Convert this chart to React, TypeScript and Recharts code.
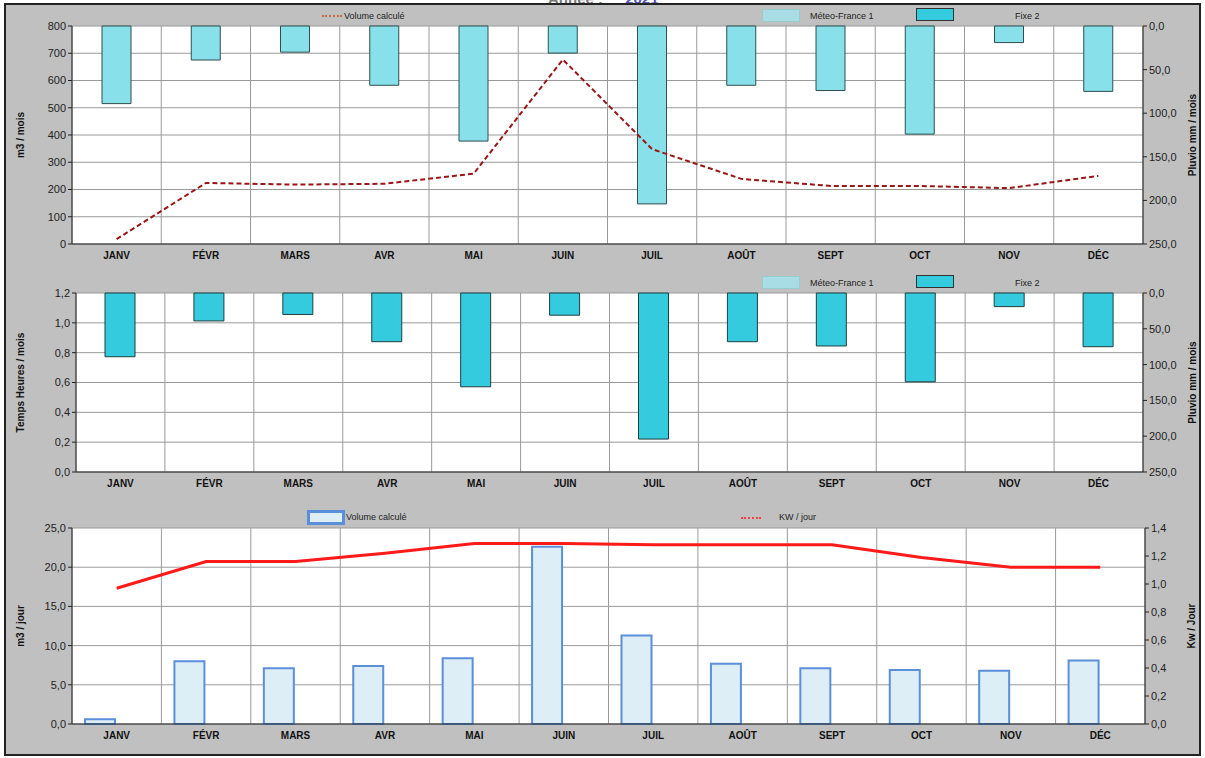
import React from 'react';
import { ComposedChart, Bar, Line, XAxis, YAxis, CartesianGrid } from 'recharts';

const months = ['JANV', 'FÉVR', 'MARS', 'AVR', 'MAI', 'JUIN', 'JUIL', 'AOÛT', 'SEPT', 'OCT', 'NOV', 'DÉC'];
const pluvioMeteo = [89, 39, 30, 68, 132, 31, 204, 68, 74, 124, 19, 75];
const pluvioFixe = [89, 39, 30, 68, 131, 31, 204, 68, 74, 124, 19, 75];
const tempsHeures = [0, 0, 0, 0, 0, 0, 0, 0, 0, 0, 0, 0];
const volumeMois = [18, 224, 218, 221, 258, 677, 348, 239, 213, 213, 205, 250];
const volumeJour = [0.6, 8.0, 7.1, 7.4, 8.4, 22.6, 11.3, 7.7, 7.1, 6.9, 6.8, 8.1];
const kwJour = [0.97, 1.16, 1.16, 1.22, 1.29, 1.29, 1.28, 1.28, 1.28, 1.19, 1.12, 1.12];

const ticksM3Mois = [0, 100, 200, 300, 400, 500, 600, 700, 800];
const ticksPluvio = [0, 50, 100, 150, 200, 250];
const ticksTemps = [0, 0.2, 0.4, 0.6, 0.8, 1.0, 1.2];
const ticksM3Jour = [0, 5, 10, 15, 20, 25];
const ticksKw = [0, 0.2, 0.4, 0.6, 0.8, 1.0, 1.2, 1.4];

const data1 = months.map((m, i) => ({ m, meteo: pluvioMeteo[i], vol: volumeMois[i] }));
const data2 = months.map((m, i) => ({ m, fixe: pluvioFixe[i], temps: tempsHeures[i] }));
const data3 = months.map((m, i) => ({ m, vj: volumeJour[i], kw: kwJour[i] }));

const FONT = '"Liberation Sans", Arial, sans-serif';
const comma1 = (v: number) => v.toFixed(1).replace('.', ',');
const tickStyle = { fontSize: 11, fill: '#222', fontFamily: FONT };
const xTickStyle = { fontSize: 10, fill: '#111', fontWeight: 700, fontFamily: FONT };
const axisLabelStyle = { fontSize: 10, fontWeight: 700, fill: '#111', fontFamily: FONT, textAnchor: 'middle' as const };

const vGen = ({ offset }: any) =>
  Array.from({ length: 13 }, (_, i) => offset.left + (i * offset.width) / 12);

const legendText: React.CSSProperties = {
  position: 'absolute', fontSize: 9, fontFamily: FONT, color: '#222', lineHeight: '10px',
};

function Swatch({ left, top, bg, border, w = 38, h = 13 }: any) {
  return (
    <div style={{ position: 'absolute', left, top, width: w, height: h, background: bg, border, boxSizing: 'border-box' }} />
  );
}

export default function App() {
  return (
    <div style={{ position: 'absolute', left: 0, top: 0, width: 1205, height: 758, background: '#fff', overflow: 'hidden', fontFamily: FONT }}>
      <div style={{ position: 'absolute', left: 548, top: -10, fontSize: 15, fontWeight: 700, whiteSpace: 'nowrap' }}>
        <span style={{ color: '#777' }}>Année :</span> <span style={{ color: '#5050b0', marginLeft: 18 }}>2021</span>
      </div>
      <div style={{ position: 'absolute', left: 4, top: 3, width: 1197, height: 753, background: '#c0c0c0', border: '2px solid #222', boxSizing: 'border-box' }} />

      {/* Chart 1 */}
      <div style={{ position: 'absolute', left: 0, top: 0 }}>
        <ComposedChart width={1205} height={270} data={data1} margin={{ top: 26, right: 0, bottom: 5, left: 0 }} barSize={29}>
          <CartesianGrid yAxisId="left" stroke="#9a9a9a" fill="#ffffff" fillOpacity={1} verticalCoordinatesGenerator={vGen} />
          <XAxis dataKey="m" height={21} tick={xTickStyle} tickLine={false} axisLine={{ stroke: '#222' }} interval={0} />
          <YAxis yAxisId="left" width={72} domain={[0, 800]} ticks={ticksM3Mois} tick={tickStyle} tickSize={4} axisLine={{ stroke: '#222' }} tickLine={{ stroke: '#222' }}
            label={{ value: 'm3 / mois', angle: -90, position: 'center', dx: -16, style: axisLabelStyle }} />
          <YAxis yAxisId="right" orientation="right" width={62} reversed domain={[0, 250]} ticks={ticksPluvio} tickFormatter={comma1} tick={tickStyle} tickSize={4} axisLine={{ stroke: '#222' }} tickLine={{ stroke: '#222' }}
            label={{ value: 'Pluvio  mm / mois', angle: -90, position: 'center', dx: 18, style: axisLabelStyle }} />
          <Bar yAxisId="right" dataKey="meteo" fill="#87e0ea" stroke="#2f4f4f" strokeWidth={1} isAnimationActive={false} />
          <Line yAxisId="left" dataKey="vol" stroke="#9b1515" strokeWidth={2} strokeDasharray="5 3" dot={false} isAnimationActive={false} />
        </ComposedChart>
      </div>
      <div style={{ position: 'absolute', left: 322, top: 15, width: 20, borderTop: '2px dotted #c07040' }} />
      <div style={{ ...legendText, left: 344, top: 11 }}>Volume calculé</div>
      <Swatch left={762} top={9} bg="#a9dde6" border="1px solid #9cc" />
      <div style={{ ...legendText, left: 810, top: 11 }}>Méteo-France 1</div>
      <Swatch left={916} top={8} bg="#33cbdd" border="1px solid #333" />
      <div style={{ ...legendText, left: 1015, top: 11 }}>Fixe 2</div>

      {/* Chart 2 */}
      <div style={{ position: 'absolute', left: 0, top: 270 }}>
        <ComposedChart width={1205} height={230} data={data2} margin={{ top: 23, right: 0, bottom: 7, left: 0 }} barSize={30}>
          <CartesianGrid yAxisId="left" stroke="#9a9a9a" fill="#ffffff" fillOpacity={1} verticalCoordinatesGenerator={vGen} />
          <XAxis dataKey="m" height={21} tick={xTickStyle} tickLine={false} axisLine={{ stroke: '#222' }} interval={0} />
          <YAxis yAxisId="left" width={76} domain={[0, 1.2]} ticks={ticksTemps} tickFormatter={comma1} tick={tickStyle} tickSize={4} axisLine={{ stroke: '#222' }} tickLine={{ stroke: '#222' }}
            label={{ value: 'Temps  Heures / mois', angle: -90, position: 'center', dx: -18, style: axisLabelStyle }} />
          <YAxis yAxisId="right" orientation="right" width={62} reversed domain={[0, 250]} ticks={ticksPluvio} tickFormatter={comma1} tick={tickStyle} tickSize={4} axisLine={{ stroke: '#222' }} tickLine={{ stroke: '#222' }}
            label={{ value: 'Pluvio  mm / mois', angle: -90, position: 'center', dx: 18, style: axisLabelStyle }} />
          <Bar yAxisId="right" dataKey="fixe" fill="#33cbdd" stroke="#1f3f3f" strokeWidth={1} isAnimationActive={false} />
          <Line yAxisId="left" dataKey="temps" stroke="transparent" strokeWidth={0} dot={false} legendType="none" isAnimationActive={false} />
        </ComposedChart>
      </div>
      <Swatch left={762} top={276} bg="#a9dde6" border="1px solid #9cc" />
      <div style={{ ...legendText, left: 810, top: 278 }}>Méteo-France 1</div>
      <Swatch left={916} top={275} bg="#33cbdd" border="1px solid #333" />
      <div style={{ ...legendText, left: 1015, top: 278 }}>Fixe 2</div>

      {/* Chart 3 */}
      <div style={{ position: 'absolute', left: 0, top: 500 }}>
        <ComposedChart width={1205} height={258} data={data3} margin={{ top: 28, right: 0, bottom: 13, left: 0 }} barSize={30} barGap={4}>
          <CartesianGrid yAxisId="left" stroke="#9a9a9a" fill="#ffffff" fillOpacity={1} verticalCoordinatesGenerator={vGen} />
          <XAxis dataKey="m" height={21} tick={xTickStyle} tickLine={false} axisLine={{ stroke: '#222' }} interval={0} />
          <YAxis yAxisId="left" width={72} domain={[0, 25]} ticks={ticksM3Jour} tickFormatter={comma1} tick={tickStyle} tickSize={4} axisLine={{ stroke: '#222' }} tickLine={{ stroke: '#222' }}
            label={{ value: 'm3 / jour', angle: -90, position: 'center', dx: -16, style: axisLabelStyle }} />
          <YAxis yAxisId="right" orientation="right" width={60} domain={[0, 1.4]} ticks={ticksKw} tickFormatter={comma1} tick={tickStyle} tickSize={4} axisLine={{ stroke: '#222' }} tickLine={{ stroke: '#222' }}
            label={{ value: 'Kw / Jour', angle: -90, position: 'center', dx: 16, style: axisLabelStyle }} />
          <Bar yAxisId="left" dataKey="vj" fill="#ddeef6" stroke="#5b8fd9" strokeWidth={2} isAnimationActive={false} />
          <Bar yAxisId="left" dataKey="none" fill="#ddeef6" isAnimationActive={false} />
          <Line yAxisId="right" dataKey="kw" stroke="#ff1a1a" strokeWidth={3} dot={false} isAnimationActive={false} />
        </ComposedChart>
      </div>
      <Swatch left={307} top={510} bg="#ddeef6" border="3px solid #5b8fd9" w={38} h={15} />
      <div style={{ ...legendText, left: 346, top: 512 }}>Volume calculé</div>
      <div style={{ position: 'absolute', left: 741, top: 517, width: 20, borderTop: '2px dotted #ff4040' }} />
      <div style={{ ...legendText, left: 779, top: 512 }}>KW / jour</div>
    </div>
  );
}
